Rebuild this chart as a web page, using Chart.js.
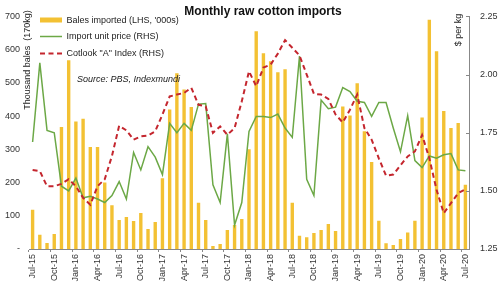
<!DOCTYPE html>
<html>
<head>
    <title>Monthly raw cotton imports</title>
    <script src="https://cdn.jsdelivr.net/npm/chart.js@4.4.0/dist/chart.umd.min.js"></script>
    <style>
        body { margin: 0; background: #fff; }
        #wrap { width: 500px; height: 286px; }
    </style>
</head>
<body>
<div id="wrap"><canvas id="canvas"></canvas></div>
<script>
    var months = [
        'Jul-15','Aug-15','Sep-15','Oct-15','Nov-15','Dec-15',
        'Jan-16','Feb-16','Mar-16','Apr-16','May-16','Jun-16','Jul-16','Aug-16','Sep-16','Oct-16','Nov-16','Dec-16',
        'Jan-17','Feb-17','Mar-17','Apr-17','May-17','Jun-17','Jul-17','Aug-17','Sep-17','Oct-17','Nov-17','Dec-17',
        'Jan-18','Feb-18','Mar-18','Apr-18','May-18','Jun-18','Jul-18','Aug-18','Sep-18','Oct-18','Nov-18','Dec-18',
        'Jan-19','Feb-19','Mar-19','Apr-19','May-19','Jun-19','Jul-19','Aug-19','Sep-19','Oct-19','Nov-19','Dec-19',
        'Jan-20','Feb-20','Mar-20','Apr-20','May-20','Jun-20','Jul-20'
    ];
    // thousand bales (LHS)
    var bales = [118, 43, 18, 45, 367, 568, 384, 392, 307, 307, 200, 132, 87, 96, 84, 108, 60, 81,
        213, 420, 529, 480, 427, 139, 87, 9, 15, 57, 72, 90, 300, 655, 589, 565, 532, 541,
        139, 40, 35, 48, 57, 75, 54, 429, 402, 499, 354, 262, 85, 17, 12, 30, 50, 85,
        396, 690, 595, 415, 364, 379, 193];
    // $ per kg (RHS)
    var unitPrice = [1.71, 2.05, 1.76, 1.75, 1.52, 1.50, 1.555, 1.47, 1.477, 1.465, 1.45, 1.48, 1.54, 1.465, 1.665, 1.59, 1.69, 1.645,
        1.57, 1.79, 1.75, 1.79, 1.76, 1.873, 1.875, 1.526, 1.45, 1.745, 1.353, 1.45, 1.755, 1.82, 1.82, 1.815, 1.83, 1.77,
        1.73, 2.08, 1.55, 1.48, 1.89, 1.853, 1.86, 1.944, 1.927, 1.885, 1.88, 1.82, 1.88, 1.88, 1.77, 1.668, 1.823, 1.63,
        1.60, 1.65, 1.64, 1.655, 1.66, 1.59, 1.586];
    var cotlookA = [1.59, 1.585, 1.52, 1.52, 1.53, 1.55, 1.52, 1.47, 1.44, 1.52, 1.55, 1.65, 1.78, 1.76, 1.72, 1.734, 1.738, 1.756,
        1.828, 1.906, 1.914, 1.921, 1.943, 1.87, 1.863, 1.749, 1.777, 1.741, 1.77, 1.885, 2.014, 1.95, 2.03, 2.043, 2.09, 2.148,
        2.115, 2.082, 2.0, 1.917, 1.914, 1.895, 1.828, 1.794, 1.849, 1.914, 1.77, 1.72, 1.64, 1.565, 1.57, 1.61, 1.648, 1.67,
        1.74, 1.64, 1.505, 1.404, 1.447, 1.49, 1.507];

    var barColor = '#F3C133';
    var greenColor = '#6CA846';
    var redColor = '#C4262E';
    var font = '"Liberation Sans", Arial, sans-serif';

    // title, legend, source and axis titles drawn over the chart
    var annotations = {
        id: 'annotations',
        afterDraw: function(chart) {
            var ctx = chart.ctx;
            var area = chart.chartArea;
            ctx.save();
            ctx.fillStyle = '#111';
            ctx.font = 'bold 12px ' + font;
            ctx.textAlign = 'center';
            ctx.textBaseline = 'alphabetic';
            ctx.fillText('Monthly raw cotton imports', 263, 15);

            ctx.fillStyle = barColor;
            ctx.fillRect(40, 17.5, 22, 5);
            ctx.lineWidth = 1.5;
            ctx.strokeStyle = greenColor;
            ctx.beginPath(); ctx.moveTo(40, 36.5); ctx.lineTo(62, 36.5); ctx.stroke();
            ctx.lineWidth = 2;
            ctx.strokeStyle = redColor;
            ctx.setLineDash([5, 3.5]);
            ctx.beginPath(); ctx.moveTo(40, 53.5); ctx.lineTo(62, 53.5); ctx.stroke();
            ctx.setLineDash([]);

            ctx.fillStyle = '#222';
            ctx.font = '9px ' + font;
            ctx.textAlign = 'left';
            ctx.textBaseline = 'middle';
            ctx.fillText("Bales imported (LHS, '000s)", 66.5, 20.5);
            ctx.fillText('Import unit price (RHS)', 66.5, 36.5);
            ctx.fillText('Cotlook "A" Index (RHS)', 66.5, 53.5);
            ctx.font = 'italic 9px ' + font;
            ctx.fillText('Source: PBS, Indexmundi', 77, 79.5);

            ctx.font = '9px ' + font;
            ctx.textAlign = 'center';
            ctx.save();
            ctx.translate(28, 60);
            ctx.rotate(-Math.PI / 2);
            ctx.fillText('Thousand bales  (170kg)', 0, 0);
            ctx.restore();
            ctx.save();
            ctx.translate(459, 30);
            ctx.rotate(-Math.PI / 2);
            ctx.fillText('$ per kg', 0, 0);
            ctx.restore();

            // inward tick marks on the right axis
            var y1 = chart.scales.y1;
            ctx.strokeStyle = '#888';
            ctx.lineWidth = 1;
            y1.ticks.forEach(function(t) {
                var y = Math.round(y1.getPixelForValue(t.value)) + 0.5;
                ctx.beginPath();
                ctx.moveTo(area.right - 3, y);
                ctx.lineTo(area.right, y);
                ctx.stroke();
            });
            ctx.restore();
        }
    };

    var context = document.getElementById('canvas').getContext('2d');
    var myChart = new Chart(context, {
        type: 'bar',
        data: {
            labels: months,
            datasets: [
                {
                    type: 'line',
                    label: 'Cotlook "A" Index (RHS)',
                    data: cotlookA,
                    yAxisID: 'y1',
                    borderColor: redColor,
                    borderWidth: 2,
                    borderDash: [5, 3.5],
                    pointRadius: 0,
                    tension: 0,
                    order: 1
                },
                {
                    type: 'line',
                    label: 'Import unit price (RHS)',
                    data: unitPrice,
                    yAxisID: 'y1',
                    borderColor: greenColor,
                    borderWidth: 1.5,
                    pointRadius: 0,
                    tension: 0,
                    order: 2
                },
                {
                    label: "Bales imported (LHS, '000s)",
                    data: bales,
                    yAxisID: 'y',
                    backgroundColor: barColor,
                    barPercentage: 0.47,
                    categoryPercentage: 1.0,
                    order: 3
                }
            ]
        },
        options: {
            responsive: true,
            maintainAspectRatio: false,
            animation: false,
            layout: { padding: { top: 16, right: 0, bottom: 0, left: 0 } },
            plugins: {
                legend: { display: false },
                title: { display: false },
                tooltip: { enabled: false }
            },
            scales: {
                x: {
                    offset: true,
                    grid: {
                        offset: true,
                        drawOnChartArea: false,
                        drawTicks: true,
                        tickLength: 3,
                        color: function(c) { return c.index % 3 === 0 ? '#888' : 'rgba(0,0,0,0)'; }
                    },
                    border: { display: true, color: '#888', width: 1 },
                    ticks: {
                        autoSkip: false,
                        minRotation: 90,
                        maxRotation: 90,
                        padding: 2,
                        color: '#333',
                        font: { family: font, size: 9 },
                        callback: function(v, i) { return i % 3 === 0 ? months[i] : ''; }
                    },
                    afterFit: function(scale) { scale.height = 37; }
                },
                y: {
                    position: 'left',
                    min: 0,
                    max: 700,
                    grid: { display: false, drawTicks: false },
                    border: { display: false },
                    ticks: {
                        stepSize: 100,
                        padding: 9,
                        color: '#333',
                        font: { family: font, size: 9 },
                        callback: function(v) { return v === 0 ? '-' : v; }
                    },
                    afterFit: function(scale) { scale.width = 29; }
                },
                y1: {
                    position: 'right',
                    min: 1.25,
                    max: 2.25,
                    grid: { display: false, drawTicks: false },
                    border: { display: true, color: '#888', width: 1 },
                    ticks: {
                        stepSize: 0.25,
                        padding: 11,
                        color: '#333',
                        font: { family: font, size: 9 },
                        callback: function(v) { return v.toFixed(2); }
                    },
                    afterFit: function(scale) { scale.width = 31; }
                }
            }
        },
        plugins: [annotations]
    });
</script>
</body>
</html>
